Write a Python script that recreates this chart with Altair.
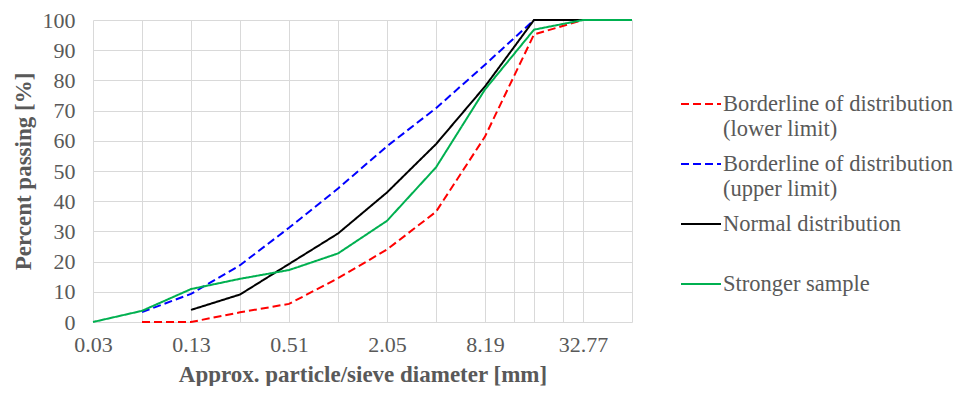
import altair as alt
import pandas as pd

# Sieve sizes (mm) - log2 spaced
sizes = [0.032, 0.064, 0.128, 0.256, 0.512, 1.024, 2.048, 4.096, 8.192, 16.384, 32.768, 65.536]

series_names = [
    "Borderline of distribution (lower limit)",
    "Borderline of distribution (upper limit)",
    "Normal distribution",
    "Stronger sample",
]
series_colors = ["#FF0000", "#0000FF", "#000000", "#00B050"]
series_dash = [[8, 4], [8, 4], [1, 0], [1, 0]]

lower_limit = [None, 0, 0, 3.2, 6.0, 14.5, 24.0, 36.5, 61.4, 95.2, 100, 100]
upper_limit = [None, 3.3, 9.3, 18.8, 31.2, 44.2, 58.2, 70.8, 85.2, 100, 100, 100]
normal_dist = [None, None, 4.0, 9.1, 19.2, 29.3, 42.9, 58.9, 78.0, 100, 100, 100]
stronger = [0, 3.7, 10.9, 14.3, 17.2, 22.7, 33.5, 51.2, 77.0, 96.8, 100, 100]

grid_x = [0.032, 0.064, 0.128, 0.256, 0.512, 1.024, 2.048, 4.096, 8.192, 12.33,
          16.384, 24.66, 32.768, 65.536]
label_x = [0.032, 0.128, 0.512, 2.048, 8.192, 32.768]
y_ticks = list(range(0, 101, 10))

rows = []
for name, vals in zip(series_names, [lower_limit, upper_limit, normal_dist, stronger]):
    for i, (s, v) in enumerate(zip(sizes, vals)):
        if v is not None:
            rows.append({"series": name, "size": s, "pct": v, "idx": i})
df = pd.DataFrame(rows)

TXT = "#595959"
FONT = "Liberation Serif"

label_list = "[" + ",".join(str(v) for v in label_x) + "]"
x_label_expr = f"indexof({label_list}, datum.value) >= 0 ? format(datum.value, '.2f') : ''"

legend_expr = ("indexof(datum.label, ' (') > 0 ? "
               "[substring(datum.label, 0, indexof(datum.label, ' (')), "
               "substring(datum.label, indexof(datum.label, ' (') + 1)] : datum.label")

chart = alt.Chart(df).mark_line(strokeWidth=2).encode(
    x=alt.X("size:Q",
            scale=alt.Scale(type="log", base=2, domain=[0.032, 65.536], nice=False),
            axis=alt.Axis(values=grid_x, labelExpr=x_label_expr,
                          title="Approx. particle/sieve diameter [mm]",
                          grid=True, gridColor="#d9d9d9", domain=False, ticks=False,
                          labelFontSize=22, labelColor=TXT, labelFont=FONT,
                          labelPadding=12, labelOverlap=False, labelFlush=False,
                          titleFontSize=23, titleFont=FONT, titleColor=TXT,
                          titleFontWeight="bold", titlePadding=8)),
    y=alt.Y("pct:Q",
            scale=alt.Scale(domain=[0, 100], nice=False),
            axis=alt.Axis(values=y_ticks, title="Percent passing [%]",
                          grid=True, gridColor="#d9d9d9", domain=False, ticks=False,
                          labelFontSize=22, labelColor=TXT, labelFont=FONT,
                          labelPadding=18,
                          titleFontSize=23, titleFont=FONT, titleColor=TXT,
                          titleFontWeight="bold", titlePadding=7)),
    color=alt.Color("series:N",
                    scale=alt.Scale(domain=series_names, range=series_colors),
                    legend=alt.Legend(title=None, orient="none", legendX=587, legendY=63,
                                      symbolType="stroke", symbolSize=1600,
                                      symbolStrokeWidth=2, labelExpr=legend_expr,
                                      labelFontSize=22.5, labelFont=FONT, labelColor=TXT,
                                      labelBaseline="middle", labelOffset=1,
                                      labelLimit=400, rowPadding=3, padding=0,
                                      gridAlign="all", symbolOffset=0)),
    strokeDash=alt.StrokeDash("series:N",
                              scale=alt.Scale(domain=series_names, range=series_dash),
                              legend=None),
    order=alt.Order("idx:Q"),
).properties(
    width=539, height=302,
    autosize=alt.AutoSizeParams(type="none"),
    padding={"left": 85, "top": 12, "right": 323, "bottom": 64},
).configure_view(stroke=None)

chart.save("out.html", embed_options={"renderer": "svg", "actions": False})
